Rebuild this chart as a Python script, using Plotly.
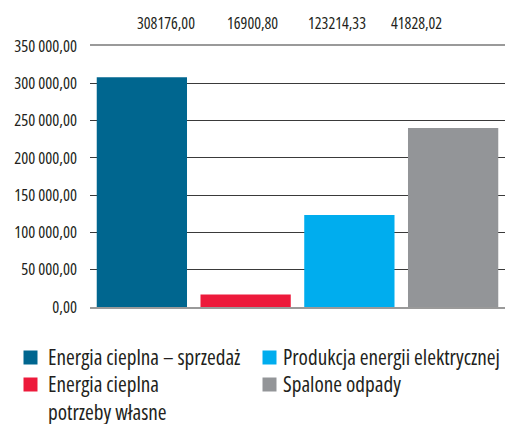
import plotly.graph_objects as go

categories = ["Energia cieplna – sprzedaż", "Energia cieplna|potrzeby własne",
              "Produkcja energii elektrycznej", "Spalone odpady"]
values = [308176.00, 16900.80, 123214.33, 240000.00]
top_labels = ["308176,00", "16900,80", "123214,33", "41828,02"]
colors = ["#00668f", "#ed1a3b", "#00adee", "#939598"]
legend_col = [0, 0, 1, 1]
legend_row = [0, 1, 0, 1]
tick_vals = [0, 50000, 100000, 150000, 200000, 250000, 300000, 350000]
tick_labels = ["0,00", "50 000,00", "100 000,00", "150 000,00", "200 000,00",
               "250 000,00", "300 000,00", "350 000,00"]

FONT = "Open Sans"
TXT = "#231f20"
W, H = 505, 424
ML, MR, MT, MB = 90, 0, 46, 117
PW, PH = W - ML - MR, H - MT - MB


def cond(s):
    return "<br>".join(f"<span style='font-stretch:condensed'>{p}</span>" for p in s.split("|"))


def px_x(px):
    return (px - ML) / PW


def px_y(py):
    return (H - MB - py) / PH


fig = go.Figure()
for cat, val, col in zip(categories, values, colors):
    fig.add_trace(go.Bar(x=[cat], y=[val], name=cat, marker=dict(color=col, line=dict(width=0)),
                         hoverinfo="skip", showlegend=False))

# value labels above the chart
label_px = [166, 252, 337, 416]
for lx, txt in zip(label_px, top_labels):
    fig.add_annotation(x=px_x(lx), y=px_y(23), xref="paper", yref="paper", text=cond(txt),
                       showarrow=False, font=dict(family=FONT, size=16, color=TXT),
                       xanchor="center", yanchor="middle")

# manual legend (two columns)
col_px = [23.5, 262.5]
text_off = [23.5, 19.5]
row_px = [357.5, 384.5]
for cat, col, c, r in zip(categories, colors, legend_col, legend_row):
    x0 = col_px[c]
    yc = row_px[r]
    fig.add_shape(type="rect", xref="paper", yref="paper",
                  x0=px_x(x0), x1=px_x(x0 + 14), y0=px_y(yc - 7), y1=px_y(yc + 7),
                  fillcolor=col, line=dict(width=0))
    fig.add_annotation(x=px_x(x0 + text_off[c]), y=px_y(yc - 16.5), xref="paper", yref="paper",
                       text=cond(cat), showarrow=False, align="left", borderpad=0,
                       font=dict(family=FONT, size=21.2, color=TXT),
                       xanchor="left", yanchor="top")

fig.update_layout(
    width=W, height=H,
    margin=dict(l=ML, r=MR, t=MT, b=MB, autoexpand=False),
    paper_bgcolor="white", plot_bgcolor="white",
    barmode="overlay", bargap=0.13,
    font=dict(family=FONT, size=16, color=TXT),
    showlegend=False,
    xaxis=dict(categoryorder="array", categoryarray=categories, showticklabels=False,
               showgrid=False, zeroline=False, showline=True, mirror=True,
               linecolor="#9a9a9a", linewidth=2, fixedrange=True),
    yaxis=dict(range=[0, 350000], tickvals=tick_vals, ticktext=[cond(t) for t in tick_labels],
               showgrid=True, gridcolor="#3a3a3a", gridwidth=1, zeroline=False,
               showline=False, ticks="", ticklabelstandoff=12, fixedrange=True,
               tickfont=dict(family=FONT, size=16.5, color=TXT)),
)

fig.write_html("out.html", config={"displayModeBar": False},
               post_script="document.body.style.margin='0';")
